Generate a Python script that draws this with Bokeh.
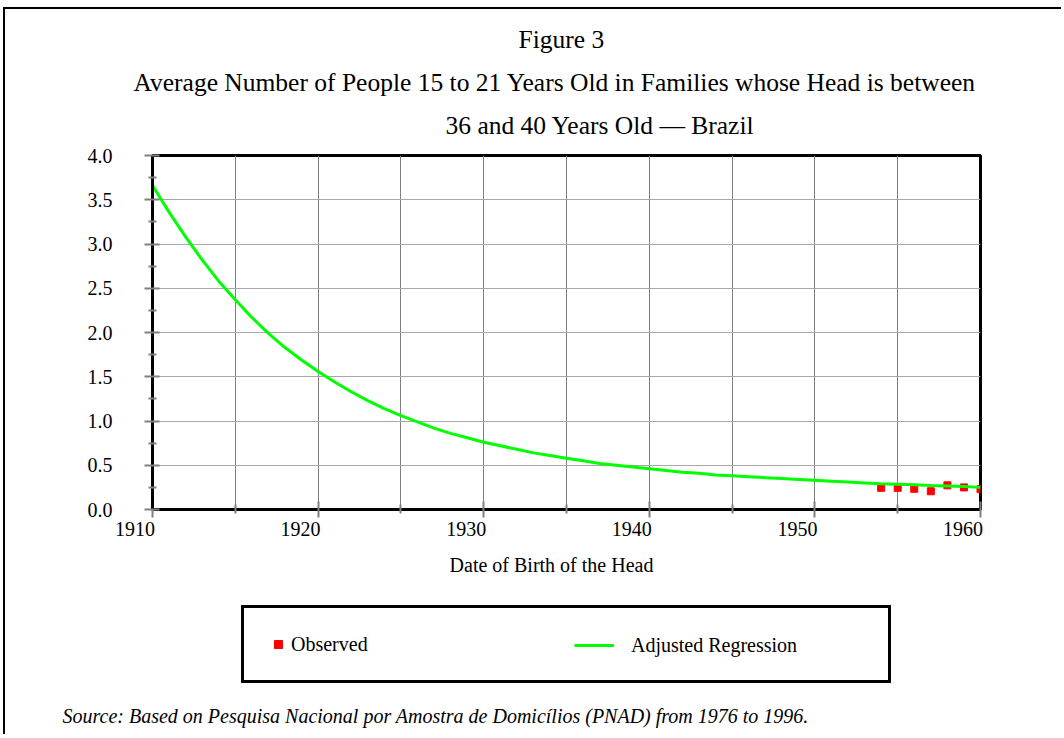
from bokeh.plotting import figure
from bokeh.layouts import column
from bokeh.models import (Range1d, FixedTicker, Title, Legend, LegendItem, Label,
                          PrintfTickFormatter)
from bokeh.embed import file_html
from bokeh.resources import INLINE

# ---------------- data ----------------
fit_years = list(range(1910, 1961))
fit_values = [3.66, 3.36, 3.08, 2.82, 2.58, 2.37, 2.17, 1.99, 1.83, 1.69,
              1.56, 1.44, 1.33, 1.23, 1.14, 1.06, 0.99, 0.92, 0.86, 0.81,
              0.76, 0.72, 0.68, 0.64, 0.61, 0.58, 0.55, 0.52, 0.50, 0.48,
              0.46, 0.44, 0.42, 0.41, 0.39, 0.38, 0.37, 0.36, 0.35, 0.34,
              0.33, 0.32, 0.31, 0.30, 0.29, 0.285, 0.28, 0.27, 0.265, 0.26,
              0.25]
obs_years = [1954, 1955, 1956, 1957, 1958, 1959, 1960]
obs_values = [0.245, 0.245, 0.234, 0.206, 0.273, 0.25, 0.23]

x_ticks = [1910, 1920, 1930, 1940, 1950, 1960]
x_tick_labels = ["1910", "1920", "1930", "1940", "1950", "1960"]
x_minor = [1915, 1925, 1935, 1945, 1955]
x_grid = [1915, 1920, 1925, 1930, 1935, 1940, 1945, 1950, 1955]
y_ticks = [0.0, 0.5, 1.0, 1.5, 2.0, 2.5, 3.0, 3.5, 4.0]
y_minor = [0.25, 0.75, 1.25, 1.75, 2.25, 2.75, 3.25, 3.75]

title_lines = ["Figure 3",
               "Average Number of People 15 to 21 Years Old in Families whose Head is between",
               "36 and 40 Years Old \u2014 Brazil"]
x_title = "Date of Birth of the Head"
series_names = ["Observed", "Adjusted Regression"]
source_text = "Source: Based on Pesquisa Nacional por Amostra de Domic\u00edlios (PNAD) from 1976 to 1996."

# ---------------- layout ----------------
FONT = "Liberation Serif"
W = 1056
OX, OY = 5, 9                          # canvas origin in page pixels
FL, FR, FT, FB = 152, 980, 155, 509    # plot frame in page pixels
SPLIT = 590                            # page y where the lower (legend) panel starts
H2 = 144

p = figure(frame_width=FR - FL, frame_height=FB - FT,
           x_range=Range1d(1910, 1960), y_range=Range1d(0, 4),
           output_backend="svg", toolbar_location=None,
           min_border_left=FL - OX, min_border_right=W - (FR - OX),
           min_border_top=FT - OY, min_border_bottom=SPLIT - FB)
p.outline_line_color = "black"
p.outline_line_width = 3
p.background_fill_color = "white"
p.border_fill_color = "white"

# grids
p.xgrid.ticker = FixedTicker(ticks=x_grid)
p.xgrid.grid_line_color = "#808080"
p.xgrid.grid_line_width = 1
p.ygrid.ticker = FixedTicker(ticks=y_ticks)
p.ygrid.grid_line_color = "#A8A8A8"
p.ygrid.grid_line_width = 1

# x axis (labels sit to the left of their ticks, as in the reference)
pad = "\u00a0" * 7
xa = p.xaxis[0]
xa.ticker = FixedTicker(ticks=x_ticks, minor_ticks=x_minor)
xa.major_label_overrides = {t: lab + pad for t, lab in zip(x_ticks, x_tick_labels)}
xa.axis_line_color = "black"
xa.axis_line_width = 3
xa.major_tick_line_color = "#808080"
xa.major_tick_line_width = 2
xa.major_tick_in = 8
xa.major_tick_out = 8
xa.minor_tick_line_color = "#808080"
xa.minor_tick_line_width = 2
xa.minor_tick_in = 5
xa.minor_tick_out = 4
xa.major_label_standoff = 0
xa.major_label_text_font = FONT
xa.major_label_text_font_size = "20px"
xa.major_label_text_color = "black"
xa.axis_label = x_title + "\u00a0" * 6
xa.axis_label_standoff = 11
xa.axis_label_text_font = FONT
xa.axis_label_text_font_size = "20px"
xa.axis_label_text_font_style = "normal"
xa.axis_label_text_color = "black"

# y axis
ya = p.yaxis[0]
ya.ticker = FixedTicker(ticks=y_ticks, minor_ticks=y_minor)
ya.formatter = PrintfTickFormatter(format="%.1f")
ya.axis_line_color = "black"
ya.axis_line_width = 3
ya.major_tick_line_color = "#808080"
ya.major_tick_line_width = 2
ya.major_tick_in = 7
ya.major_tick_out = 8
ya.minor_tick_line_color = "#808080"
ya.minor_tick_line_width = 2
ya.minor_tick_in = 4
ya.minor_tick_out = 4
ya.major_label_standoff = 32
ya.major_label_text_font = FONT
ya.major_label_text_font_size = "20px"
ya.major_label_text_color = "black"

# series
p.scatter(obs_years, obs_values, marker="square", size=7,
          fill_color="#FF0000", line_color="#FF0000")
p.line(fit_years, fit_values, line_color="#00FF00", line_width=3)

# titles (first added sits closest to the plot)
specs = [(title_lines[2], 445, "top", 28),
         (title_lines[1], 133, "bottom", 0),
         (title_lines[0], 518, "bottom", 23)]
for txt, left, valign, so in specs:
    p.add_layout(Title(text=txt, align="left", offset=left - FL,
                       vertical_align=valign, standoff=so, text_font=FONT,
                       text_font_style="normal", text_font_size="25.5px",
                       text_color="black"), "above")

# ---------------- lower panel: legend + source ----------------
p2 = figure(width=W, height=H2, x_range=Range1d(0, W), y_range=Range1d(0, H2),
            x_axis_location=None, y_axis_location=None,
            output_backend="svg", toolbar_location=None, min_border=0)
p2.grid.visible = False
p2.outline_line_color = None
p2.background_fill_color = "white"
p2.border_fill_color = "white"

# do not let the column line up the two plot frames
for fig in (p, p2):
    try:
        fig.frame_align = False
    except Exception:
        pass

# legend keys styled like the series above (no visible mark in this panel)
nan = float("nan")
key_obs = p2.scatter([nan], [nan], marker="square", size=7,
                     fill_color="#FF0000", line_color="#FF0000")
key_fit = p2.line([nan, nan], [nan, nan], line_color="#00FF00", line_width=3)

BOX_L, BOX_R, BOX_T, BOX_B = 241, 885, 607, 683
A_PAD, A_GW = 24, 20
legA = Legend(items=[LegendItem(label=series_names[0], renderers=[key_obs])],
              location=(BOX_L - OX, H2 - (BOX_B - SPLIT)), orientation="horizontal",
              padding=A_PAD, margin=0, spacing=0, glyph_width=A_GW, glyph_height=20,
              label_height=BOX_B - BOX_T - 2 * A_PAD - 4,
              label_width=(BOX_R - BOX_L) - 2 * A_PAD - A_GW - 3, label_standoff=3,
              border_line_color="black", border_line_width=3, border_line_alpha=1.0,
              background_fill_color="white", background_fill_alpha=1.0,
              label_text_font=FONT, label_text_font_size="20px",
              label_text_color="black")
B_H = 24
legB = Legend(items=[LegendItem(label=series_names[1], renderers=[key_fit])],
              location=(574 - OX, H2 - (657 - SPLIT)), orientation="horizontal",
              padding=0, margin=0, spacing=0, glyph_width=40, glyph_height=B_H,
              label_height=B_H, label_standoff=17,
              border_line_color=None, background_fill_alpha=0.0,
              label_text_font=FONT, label_text_font_size="20px",
              label_text_color="black")
p2.add_layout(legA)
p2.add_layout(legB)

p2.add_layout(Label(x=62 - OX, y=H2 - (715 - SPLIT), text=source_text,
                    text_align="left", text_baseline="middle", text_font=FONT,
                    text_font_style="italic", text_font_size="20px",
                    text_color="black"))

layout = column(p, p2, spacing=0,
                styles={"border-top": "2px solid black", "border-left": "2px solid black",
                        "margin-left": "3px", "margin-top": "7px"})

open("out.html", "w").write(file_html(layout, INLINE))
